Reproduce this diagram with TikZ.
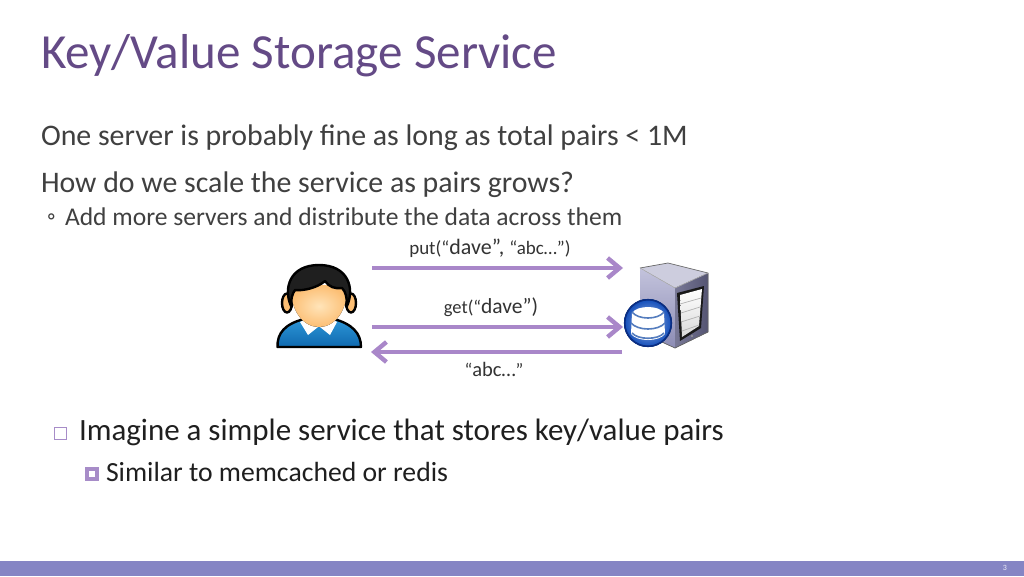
\documentclass[tikz,border=0pt]{standalone}
\usepackage{fontspec}
\setmainfont{Carlito}
\usetikzlibrary{arrows.meta}
\definecolor{titlec}{HTML}{644A86}
\definecolor{bodyc}{HTML}{404040}
\definecolor{arrowc}{HTML}{A987C9}
\definecolor{barc}{HTML}{8585C4}
\definecolor{bulc}{HTML}{A78CC8}
\definecolor{shirtA}{RGB}{45,150,215}
\definecolor{shirtB}{RGB}{15,105,175}
\definecolor{skinA}{RGB}{255,228,185}
\definecolor{skinB}{RGB}{252,190,115}
\definecolor{srvTop}{RGB}{205,205,222}
\definecolor{srvA}{RGB}{195,195,220}
\definecolor{srvB}{RGB}{140,140,180}
\definecolor{srvC}{RGB}{120,120,150}
\definecolor{srvD}{RGB}{85,85,115}
\definecolor{ballc}{RGB}{15,75,185}
\definecolor{ballr}{RGB}{10,45,130}
\definecolor{diskc}{RGB}{85,125,190}
\tikzset{
  txt/.style={anchor=base west,inner sep=0pt,outer sep=0pt},
  lab/.style={anchor=base,inner sep=0pt,outer sep=0pt,text=black!80},
  flow/.style={draw=arrowc,line width=4.4pt,-{Straight Barb[length=12pt,width=20pt,line width=4.4pt]}},
  ink/.style={draw=black,line width=2.4pt,line join=round},
  disk/.style={draw=diskc,line width=1.6pt}
}
\newcommand{\fs}[1]{\fontsize{#1}{#1}\selectfont}
\begin{document}
\begin{tikzpicture}[x=1pt,y=-1pt]
\useasboundingbox (0,0) rectangle (1024,576);
\fill[white] (0,0) rectangle (1024,576);
\fill[barc] (0,561) rectangle (1024,576);
\node[inner sep=0pt,text=white!85!barc,anchor=base] (pg) at (1005,570) {\fs{8}3};
\node[txt,text=titlec] (title) at (41,68) {\fs{49.05}Key/Value Storage Service};
\node[txt,text=bodyc] (l1) at (41,145) {\fs{29.85}One server is probably fine as long as total pairs < 1M};
\node[txt,text=bodyc] (l2) at (41,192) {\fs{29.85}How do we scale the service as pairs grows?};
\node[txt,text=bodyc] (l3b) at (47,224) {\fs{24}◦};
\node[txt,text=bodyc] (l3) at (65,225) {\fs{25.55}Add more servers and distribute the data across them};
\node[lab] (put) at (490,254) {\fs{19}put(“\fs{22}dave”, \fs{19}“abc…”)};
\node[lab] (get) at (491,313) {\fs{18.5}get(“\fs{21.5}dave”)};
\node[lab] (abc) at (494,376) {\fs{18.5}“\fs{20.5}abc…\fs{18.5}”};
\coordinate (a1) at (372,268); \coordinate (b1) at (623,268);
\coordinate (a2) at (372,327); \coordinate (b2) at (623,327);
\coordinate (a3) at (622,352); \coordinate (b3) at (371,352);
\draw[flow] (a1) -- (b1);
\draw[flow] (a2) -- (b2);
\draw[flow] (a3) -- (b3);
% person
\draw[ink,top color=shirtA,bottom color=shirtB]
   (277.5,347) .. controls (277,333) and (285,324) .. (304,319) -- (334,319) .. controls (352,324) and (361,333) .. (361,347) -- cycle;
\fill[white] (300,322) -- (306,319) -- (318,327) -- (308,335) -- cycle;
\fill[white] (337,322) -- (332,319) -- (320,327) -- (330,335) -- cycle;
\draw[ink,fill=skinB] (287,303) ellipse (5 and 9.5);
\draw[ink,fill=skinB] (351,303) ellipse (5 and 9.5);
\fill[inner color=skinA,outer color=skinB]
   (291,285) .. controls (290,312) and (304,327) .. (319,327) .. controls (334,327) and (348,312) .. (347,285) -- cycle;
\draw[ink,fill=black!88]
   (291,306) .. controls (283,288) and (290,265) .. (319,265) .. controls (348,265) and (355,288) .. (347,306)
   .. controls (347,298) and (346,292) .. (342,288) .. controls (335,289) and (329,287) .. (325,281)
   .. controls (317,288) and (303,291) .. (295,290) .. controls (292,294) and (291,299) .. (291,306) -- cycle;
% server
\fill[srvTop] (640,268) -- (668,263) -- (708,273) -- (675,288) -- cycle;
\fill[top color=srvA,bottom color=srvB] (640,268) -- (675,288) -- (675,348) -- (640,332) -- cycle;
\fill[left color=srvC,right color=srvD] (675,288) -- (708,273) -- (708,332) -- (675,348) -- cycle;
\draw[black!60,line width=.7pt,line join=round] (640,268) -- (668,263) -- (708,273) -- (708,332) -- (675,348) -- (640,332);
\draw[white!70!black,line width=.6pt] (640,268) -- (675,288) -- (708,273);
\fill[black!90] (677,293) -- (704,286) -- (701,328) -- (680,341) -- cycle;
\fill[top color=white,bottom color=black!15] (680,295) -- (702,289) -- (699,326) -- (682,337) -- cycle;
\draw[black!30,line width=.7pt] (680,304) -- (701,298) (681,313) -- (700,307) (681,322) -- (700,316) (682,331) -- (699,325);
\fill[black!40] (692,336) circle (1.2);
\fill[inner color=ballc!35!white,outer color=ballc] (648,323) circle (24);
\draw[ballr,line width=1.6pt] (648,323) circle (23.3);
\fill[white] (632,313) .. controls (637,305) and (659,305) .. (664,313) -- (665,334) .. controls (659,342) and (637,342) .. (631,334) -- cycle;
\draw[disk] (632,312) .. controls (638,320) and (658,320) .. (664,312);
\draw[disk] (631,323) .. controls (638,331) and (658,331) .. (665,323);
\draw[disk] (632,333) .. controls (638,340) and (658,340) .. (664,333);
% bullets
\node[draw=bulc,line width=1pt,minimum size=11.5pt,inner sep=0pt,fill=white] (b1s) at (60.5,433.5) {};
\node[txt,text=black!88] (l4) at (79,440) {\fs{30.95}Imagine a simple service that stores key/value pairs};
\node[draw=bulc,line width=4pt,minimum size=10pt,inner sep=0pt,fill=white] (b2s) at (92,474) {};
\node[txt,text=black!88] (l5) at (106,481) {\fs{27.7}Similar to memcached or redis};
\end{tikzpicture}
\end{document}
